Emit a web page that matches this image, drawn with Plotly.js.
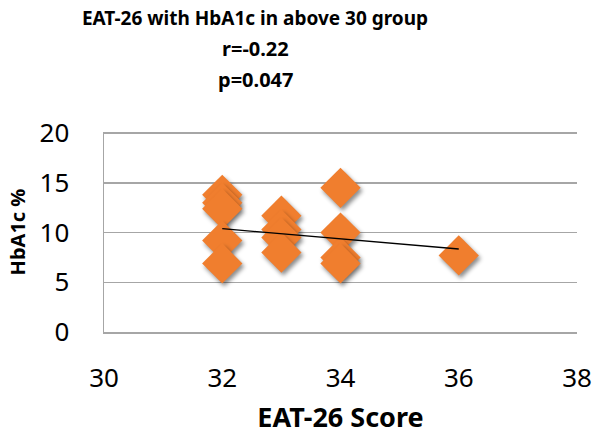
<!DOCTYPE html>
<html>
<head>
<meta charset="utf-8">
<script src="https://cdn.plot.ly/plotly-3.0.1.min.js"></script>
<style>
html,body{margin:0;padding:0;background:#fff;}
#chart{width:600px;height:441px;}
.scatterlayer .trace:first-child .point{filter:drop-shadow(2px 3px 2px rgba(0,0,0,0.45));}
</style>
</head>
<body>
<div id="chart"></div>
<script>
// EAT-26 score vs HbA1c % (above 30 group)
const eatScore = [32, 32, 32, 32, 32, 33, 33, 33, 33, 34, 34, 34, 34, 36];
const hba1c    = [13.8, 13.0, 12.4, 9.2, 6.9, 11.7, 10.3, 9.5, 8.0, 14.5, 10.0, 7.5, 6.9, 7.7];
// linear trend line ends
const trendX = [32, 36];
const trendY = [10.4, 8.35];
const xTicks = [30, 32, 34, 36, 38];
const yTicks = [0, 5, 10, 15, 20];
const titleText = 'EAT-26 with HbA1c in above 30 group';
const statLines = ['r=-0.22', 'p=0.047'];

const FONT = 'Noto Sans, DejaVu Sans, sans-serif';
const GRID = '#A6A6A6';
const L = 104, R = 23, T = 132, B = 109;
const plotH = 441 - T - B, plotW = 600 - L - R;
const titleCx = 255;
const py = (pix) => (441 - B - pix) / plotH;
const yMax = yTicks[yTicks.length - 1];

const traces = [
  {
    type: 'scatter', mode: 'markers', x: eatScore, y: hba1c,
    marker: {symbol: 'diamond', size: 31, color: '#F07E2E', line: {width: 0}},
    showlegend: false, hoverinfo: 'x+y'
  },
  {
    type: 'scatter', mode: 'lines', x: trendX, y: trendY,
    line: {color: '#000', width: 1.3}, showlegend: false, hoverinfo: 'skip'
  }
];

const layout = {
  width: 600, height: 441,
  margin: {l: L, r: R, t: T, b: B},
  paper_bgcolor: '#fff', plot_bgcolor: '#fff',
  font: {family: FONT, color: '#000'},
  showlegend: false,
  title: {
    text: '<b>' + titleText + '</b>',
    font: {family: FONT, size: 19, color: '#000'},
    xref: 'container', x: titleCx / 600, xanchor: 'center',
    yref: 'container', y: 1 - 18 / 441, yanchor: 'middle'
  },
  annotations: [
    {text: '<b>' + statLines[0] + '</b>', xref: 'paper', yref: 'paper',
     x: (titleCx - L) / plotW, y: py(48), xanchor: 'center', yanchor: 'middle',
     showarrow: false, font: {family: FONT, size: 20, color: '#000'}},
    {text: '<b>' + statLines[1] + '</b>', xref: 'paper', yref: 'paper',
     x: (titleCx - L) / plotW, y: py(79), xanchor: 'center', yanchor: 'middle',
     showarrow: false, font: {family: FONT, size: 20, color: '#000'}}
  ],
  xaxis: {
    range: [30, 38], tickvals: xTicks, ticktext: xTicks.map(String),
    showgrid: false, zeroline: false,
    showline: true, linecolor: GRID, linewidth: 1.5,
    ticks: '', ticklabelstandoff: 22,
    tickfont: {family: FONT, size: 26, color: '#000'},
    title: {text: '<b>EAT-26 Score</b>', font: {family: FONT, size: 27, color: '#000'}, standoff: 14},
    fixedrange: true
  },
  yaxis: {
    range: [0, yMax * 1.006], tickvals: yTicks, ticktext: yTicks.map(String),
    showgrid: true, gridcolor: GRID, gridwidth: 1.5, zeroline: false,
    showline: true, linecolor: GRID, linewidth: 1.5,
    ticks: '', ticklabelstandoff: 28,
    tickfont: {family: FONT, size: 26, color: '#000'},
    title: {text: '<b>HbA1c %</b>', font: {family: FONT, size: 20, color: '#000'}, standoff: 8},
    fixedrange: true
  }
};

Plotly.newPlot('chart', traces, layout, {displayModeBar: false, staticPlot: true});
</script>
</body>
</html>
